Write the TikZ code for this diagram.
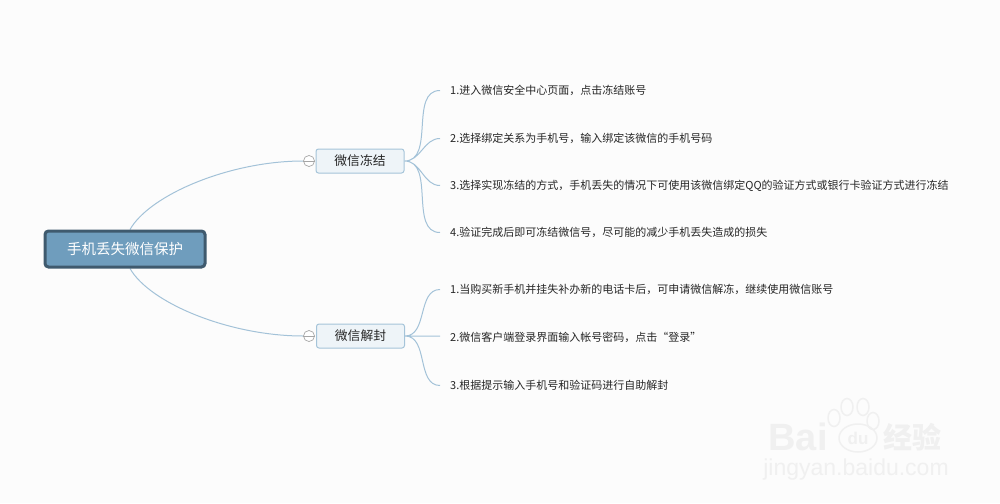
\documentclass[tikz,border=0pt]{standalone}
\usepackage{fontspec}
\usetikzlibrary{shapes.geometric,backgrounds}
\setmainfont{Noto Sans CJK SC}
\newfontfamily\marksf{Liberation Sans}
\definecolor{pagebg}{HTML}{FCFCFC}
\definecolor{rootfill}{HTML}{6F9DBD}
\definecolor{rootline}{HTML}{3F5A6E}
\definecolor{topicfill}{HTML}{EEF4F8}
\definecolor{topicline}{HTML}{A5C4D9}
\definecolor{wire}{HTML}{A3C2D8}
\definecolor{wmark}{HTML}{F0F0F0}
\tikzset{
  root/.style={draw=rootline,fill=rootfill,line width=3pt,rounded corners=3.5pt,
    minimum width=160pt,minimum height=36pt,inner sep=0pt,text=white,font=\fontsize{14.5}{14.5}\selectfont},
  topic/.style={draw=topicline,fill=topicfill,line width=1pt,rounded corners=2.5pt,
    minimum width=88pt,minimum height=24pt,inner sep=0pt,text=black!85,font=\fontsize{12.8}{12.8}\selectfont},
  fold/.style={draw=gray!70,fill=white,circle,line width=.7pt,minimum size=11pt,inner sep=0pt},
  leaf/.style={anchor=west,inner xsep=10pt,inner ysep=0pt,text=black!85,font=\fontsize{11}{11}\selectfont},
  wire/.style={draw=wire,line width=1pt},
}
\begin{document}
\begin{tikzpicture}[x=1pt,y=-1pt]
\useasboundingbox (0,0) rectangle (1000,503);
% watermark
\begin{scope}[wmark]
\node [font=\marksf\bfseries\fontsize{38}{38}\selectfont] (w0) at (798,437) {Bai};
\node [draw,ellipse,line width=1.5pt,minimum width=38pt,minimum height=28pt,inner sep=0pt,font=\marksf\bfseries\fontsize{17}{17}\selectfont] (w1) at (858,438) {du};
\foreach \i/\x/\y in {2/834/418,3/847/407,4/863/407,5/873/421}
  \node [draw,ellipse,line width=1.5pt,minimum width=12pt,minimum height=17pt,inner sep=0pt] (w\i) at (\x,\y) {};
\node [font=\bfseries\fontsize{29}{29}\selectfont] (w6) at (912,437) {经验};
\node [font=\marksf\fontsize{23}{23}\selectfont] (w7) at (856,470) {jingyan.baidu.com};
\end{scope}
% nodes
\node [root] (v0) at (125,249) {手机丢失微信保护};
\node [topic] (c1) at (360,161) {微信冻结};
\node [topic] (c2) at (360.5,336) {微信解封};
\node [fold] (f1) at (309,161) {};
\node [fold] (f2) at (309,336) {};
\draw [gray!70,line width=.7pt] (f1.west) -- (f1.east) (f2.west) -- (f2.east);
\node [leaf] (a1) at (440,90.5) {1.进入微信安全中心页面，点击冻结账号};
\node [leaf] (a2) at (440,138.5) {2.选择绑定关系为手机号，输入绑定该微信的手机号码};
\node [leaf] (a3) at (440,185.5) {3.选择实现冻结的方式，手机丢失的情况下可使用该微信绑定QQ的验证方式或银行卡验证方式进行冻结};
\node [leaf] (a4) at (440,232.5) {4.验证完成后即可冻结微信号，尽可能的减少手机丢失造成的损失};
\node [leaf] (b1) at (440,289.5) {1.当购买新手机并挂失补办新的电话卡后，可申请微信解冻，继续使用微信账号};
\node [leaf] (b2) at (440,337.5) {2.微信客户端登录界面输入帐号密码，点击“登录”};
\node [leaf] (b3) at (440,385.5) {3.根据提示输入手机号和验证码进行自助解封};
% wires
\begin{scope}[on background layer]
\fill [pagebg] (0,0) rectangle (1000,503);
\draw [wire] ([xshift=5pt]v0.north) .. controls +(20,-35) and +(-73,0) .. (f1.west)
([xshift=5pt]v0.south) .. controls +(20,35) and +(-73,0) .. (f2.west);
\draw [wire] (c1.east) to [out=0,in=180] (a1.west)
(c1.east) to [out=0,in=180] (a2.west)
(c1.east) to [out=0,in=180] (a3.west)
(c1.east) to [out=0,in=180] (a4.west);
\draw [wire] (c2.east) to [out=0,in=180] (b1.west)
(c2.east) -- (b2.west |- c2.east)
(c2.east) to [out=0,in=180] (b3.west);
\end{scope}
\end{tikzpicture}
\end{document}
